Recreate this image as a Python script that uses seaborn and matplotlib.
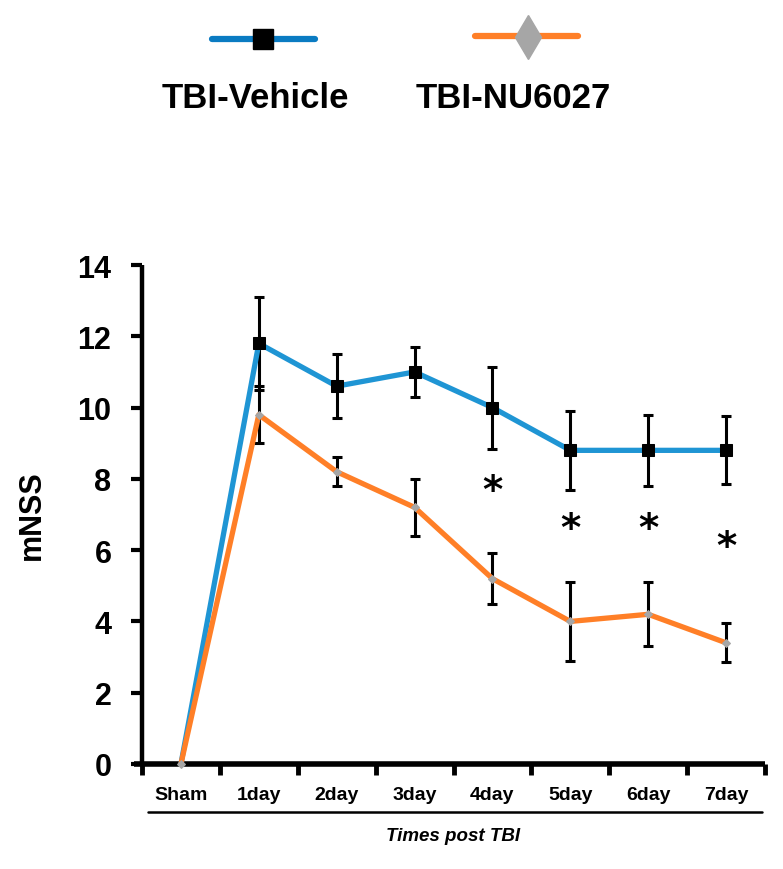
import numpy as np
import pandas as pd
import matplotlib
matplotlib.use('Agg')
import matplotlib.pyplot as plt
from matplotlib.lines import Line2D
import seaborn as sns

# Data
days = ['Sham', '1day', '2day', '3day', '4day', '5day', '6day', '7day']
vehicle = [0, 11.8, 10.6, 11.0, 10.0, 8.8, 8.8, 8.8]
vehicle_err = [0, 1.3, 0.9, 0.7, 1.15, 1.1, 1.0, 0.95]
nu6027 = [0, 9.8, 8.2, 7.2, 5.2, 4.0, 4.2, 3.4]
nu6027_err = [0, 0.8, 0.4, 0.8, 0.72, 1.1, 0.9, 0.55]
star_days = ['4day', '5day', '6day', '7day']
star_y = [7.65, 6.6, 6.6, 6.1]

blue = '#1f95d4'
orange = '#ff7f27'
gray = '#a6a6a6'

sns.set_style('ticks', {'text.color': 'black', 'axes.labelcolor': 'black',
                        'xtick.color': 'black', 'ytick.color': 'black',
                        'axes.edgecolor': 'black'})
plt.rcParams['font.family'] = ['Liberation Sans', 'DejaVu Sans']

df = pd.DataFrame({
    'day': days * 2,
    'mNSS': vehicle + nu6027,
    'group': ['TBI-Vehicle'] * len(days) + ['TBI-NU6027'] * len(days),
})

fig = plt.figure(figsize=(7.83, 8.7), dpi=100)
ax = fig.add_axes([142 / 783, 1 - 765 / 870, (765 - 142) / 783, (765 - 266) / 870])

sns.lineplot(data=df, x='day', y='mNSS', hue='group', style='group',
             palette={'TBI-Vehicle': blue, 'TBI-NU6027': orange},
             markers={'TBI-Vehicle': 's', 'TBI-NU6027': 'D'}, dashes=False,
             linewidth=3.8, legend=False, ax=ax, zorder=3)
for ln in ax.get_lines():
    ln.set_clip_on(False)
    if ln.get_marker() == 's':
        ln.set_markerfacecolor('black'); ln.set_markeredgecolor('black'); ln.set_markersize(8)
        ln.set_markevery(list(range(1, len(days))))
        ln.set_zorder(3)
    elif ln.get_marker() == 'D':
        ln.set_markerfacecolor(gray); ln.set_markeredgecolor(gray); ln.set_markersize(4.5)
        ln.set_zorder(4)

# error bars behind the lines
ax.errorbar(days[1:], vehicle[1:], yerr=vehicle_err[1:], fmt='none', ecolor='black',
            elinewidth=2.2, capsize=3.5, capthick=2.2, zorder=2)
ax.errorbar(days[1:], nu6027[1:], yerr=nu6027_err[1:], fmt='none', ecolor='black',
            elinewidth=2.2, capsize=3.5, capthick=2.2, zorder=2)

# significance stars
for d, y in zip(star_days, star_y):
    ax.text(d, y, '*', ha='center', va='center', fontsize=28, fontweight='bold',
            fontfamily='DejaVu Sans', color='black')

ax.set_xlim(-0.5, 7.5)
ax.set_ylim(0, 14)
ax.set_yticks(np.arange(0, 15, 2))
ax.set_yticklabels([str(v) for v in range(0, 15, 2)], fontsize=22, fontweight='bold')
ax.set_xticks(range(len(days)))
ax.set_xticklabels(days, fontsize=14, fontweight='bold',
                   fontfamily=['Liberation Sans Narrow', 'Liberation Sans'])
ax.set_xticks(np.arange(-0.5, 8, 1), minor=True)
ax.tick_params(axis='x', which='major', length=0, pad=16)
ax.tick_params(axis='x', which='minor', length=8, width=3.5, direction='out')
ax.tick_params(axis='y', length=8, width=3, pad=14, direction='out')
sns.despine(ax=ax)
ax.spines['left'].set_linewidth(3.2)
ax.spines['bottom'].set_linewidth(4)
ax.spines['bottom'].set_bounds(-0.6, 7.5)
for sp in ax.spines.values():
    sp.set_capstyle('butt')

ax.set_xlabel('')
ax.set_ylabel('mNSS', fontsize=22, fontweight='bold', labelpad=22)

# underline and axis title
ax.plot([0.01, 0.995], [-0.096, -0.096], color='black', lw=1.8,
        transform=ax.transAxes, clip_on=False)
ax.text(0.5, -0.144, 'Times post TBI', transform=ax.transAxes, ha='center', va='center',
        fontsize=13.5, fontweight='bold', fontstyle='italic')

# legend drawn above the plot
def fx(p):
    return p / 783

def fy(p):
    return 1 - p / 870

fig.add_artist(Line2D([fx(212), fx(315)], [fy(40), fy(40)], color='#0a7bc2', lw=4.5,
                      transform=fig.transFigure))
fig.add_artist(Line2D([fx(263)], [fy(40)], marker='s', ms=14, color='black', lw=0,
                      transform=fig.transFigure))
fig.add_artist(Line2D([fx(475), fx(578)], [fy(37), fy(37)], color=orange, lw=4.5,
                      transform=fig.transFigure))
fig.add_artist(Line2D([fx(528)], [fy(38)], marker='d', ms=22, color=gray, lw=0,
                      transform=fig.transFigure))
fig.text(fx(255), fy(98), 'TBI-Vehicle', ha='center', va='center', fontsize=25, fontweight='bold')
fig.text(fx(513), fy(98), 'TBI-NU6027', ha='center', va='center', fontsize=25, fontweight='bold')

fig.savefig('out.png', dpi=100)
